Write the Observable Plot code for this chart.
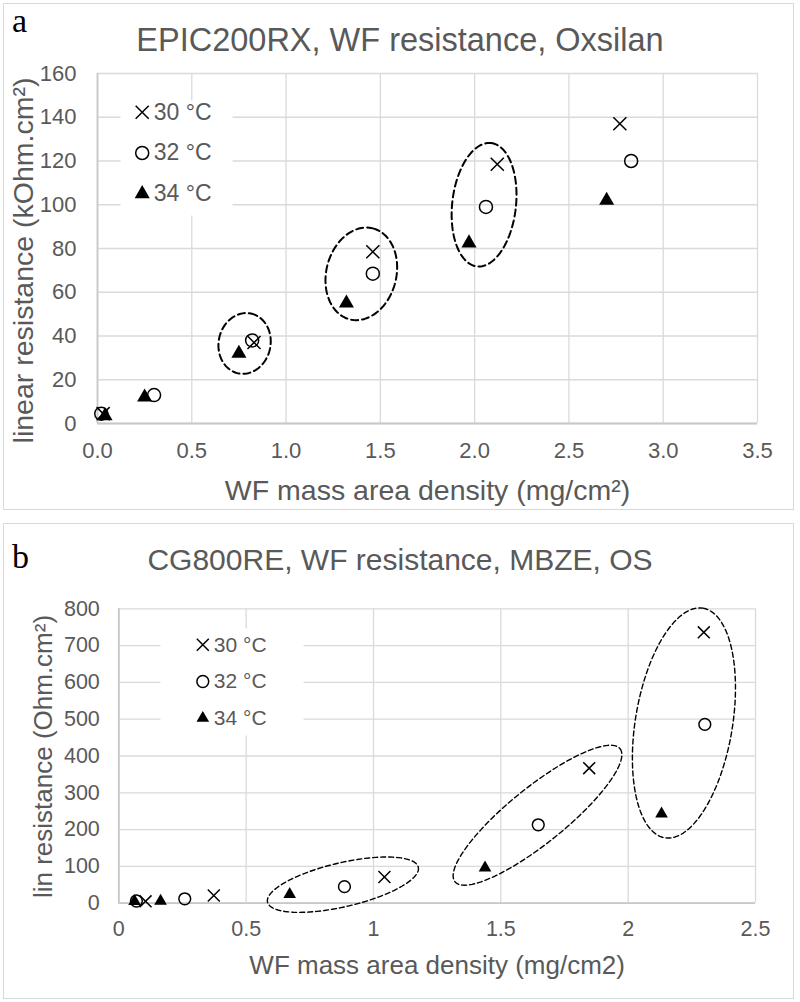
<!DOCTYPE html>
<html>
<head>
<meta charset="utf-8">
<script src="https://cdn.jsdelivr.net/npm/d3@7"></script>
<script src="https://cdn.jsdelivr.net/npm/@observablehq/plot@0.6"></script>
<style>
  body { margin: 0; background: #fff; }
  #page { position: relative; width: 800px; height: 1002px; overflow: hidden; font-family: "Liberation Sans", Arial, sans-serif; }
  .box { position: absolute; left: 3px; width: 791px; border: 1.5px solid #d9d9d9; box-sizing: border-box; }
  .tag { position: absolute; font-family: "Liberation Serif", "Times New Roman", serif; color: #000; line-height: 1; }
  .title { position: absolute; left: 0; width: 800px; text-align: center; color: #595959; line-height: 1; white-space: nowrap; }
  .chart { position: absolute; left: 0; width: 800px; }
</style>
</head>
<body>
<div id="page">
  <div class="box" style="top:3px;height:507px;"></div>
  <div class="box" style="top:523px;height:476px;"></div>
  <div class="tag" style="left:12px;top:3.5px;font-size:34px;">a</div>
  <div class="title" style="top:24px;font-size:32.5px;">EPIC200RX, WF resistance, Oxsilan</div>
  <div class="chart" id="chartA" style="top:62px;"></div>
  <div class="tag" style="left:12px;top:540px;font-size:34px;">b</div>
  <div class="title" style="top:545px;font-size:30px;">CG800RE, WF resistance, MBZE, OS</div>
  <div class="chart" id="chartB" style="top:585px;"></div>
</div>
<script>
// Temperature series shared by both panels
const temps = ["30 °C", "32 °C", "34 °C"];

// Panel a: EPIC200RX with Oxsilan — mass area density (mg/cm²) vs linear resistance (kOhm·cm²)
const epicMass30 = [0.03, 0.83, 1.46, 2.12, 2.77];
const epicRes30  = [4.5, 37, 78.5, 118.5, 137];
const epicMass32 = [0.02, 0.30, 0.82, 1.46, 2.06, 2.83];
const epicRes32  = [4.5, 13, 38, 68.5, 99, 120];
const epicMass34 = [0.04, 0.25, 0.75, 1.32, 1.97, 2.70];
const epicRes34  = [3.5, 12, 32, 55, 82.5, 102];
const epicXTicks = [0, 0.5, 1, 1.5, 2, 2.5, 3, 3.5];
const epicXTickLabels = ["0.0", "0.5", "1.0", "1.5", "2.0", "2.5", "3.0", "3.5"];
const epicYTicks = [0, 20, 40, 60, 80, 100, 120, 140, 160];
const epicYTickLabels = ["0", "20", "40", "60", "80", "100", "120", "140", "160"];

// Panel b: CG800RE with MBZE, OS — mass area density (mg/cm²) vs linear resistance (Ohm·cm²)
const cgMass30 = [0.105, 0.373, 1.043, 1.847, 2.297];
const cgRes30  = [5, 21, 71, 367, 736];
const cgMass32 = [0.069, 0.259, 0.886, 1.647, 2.301];
const cgRes32  = [6, 12, 45, 213, 486];
const cgMass34 = [0.062, 0.164, 0.671, 1.438, 2.131];
const cgRes34  = [5, 6, 24, 96, 243];
const cgXTicks = [0, 0.5, 1, 1.5, 2, 2.5];
const cgXTickLabels = ["0", "0.5", "1", "1.5", "2", "2.5"];
const cgYTicks = [0, 100, 200, 300, 400, 500, 600, 700, 800];
const cgYTickLabels = ["0", "100", "200", "300", "400", "500", "600", "700", "800"];

// Dashed groupings: centre plus two conjugate half-axes, all in data units
const epicGroups = [
  {cx: 0.780, cy: 36.6,  ax: 0.032, ay: 13.7, bx: 0.135, by: -2.3},
  {cx: 1.399, cy: 68.4,  ax: 0.061, ay: 20.8, bx: 0.180, by: -3.9},
  {cx: 2.050, cy: 100.0, ax: 0.037, ay: 28.2, bx: 0.168, by: -1.6}
];
const cgGroups = [
  {cx: 0.880, cy: 50.3,  ax: 0.296, ay: 47.6,  bx: 0.020, by: -58.2},
  {cx: 1.644, cy: 239.1, ax: 0.324, ay: 180.7, bx: 0.069, by: -59.2},
  {cx: 2.219, cy: 489.7, ax: 0.075, ay: 312.0, bx: 0.188, by: -21.7}
];

const FONT = "'Liberation Sans', Arial, sans-serif";
const GREY = "#595959";

function table(masses, resistances) {
  return masses.map((m, i) => ({mass: m, res: resistances[i]}));
}

function outline(groups) {
  const rows = [];
  groups.forEach((g, id) => {
    for (let k = 0; k < 120; ++k) {
      const t = (2 * Math.PI * k) / 120;
      rows.push({id, mass: g.cx + g.ax * Math.cos(t) + g.bx * Math.sin(t), res: g.cy + g.ay * Math.cos(t) + g.by * Math.sin(t)});
    }
  });
  return rows;
}

function lookup(ticks, labels) {
  return d => labels[ticks.indexOf(d)];
}

function panel(c) {
  const symbolStyle = [
    {symbol: "times", fill: "none", stroke: "black", strokeWidth: 1.5, r: c.rTimes},
    {symbol: "circle", fill: "none", stroke: "black", strokeWidth: 1.5, r: c.rCircle},
    {symbol: "triangle", fill: "black", stroke: "none", r: c.rTriangle}
  ];
  const marks = [
    Plot.ruleX(c.xTicks, {stroke: "#dadada", strokeWidth: 1.3}),
    Plot.ruleY(c.yTicks, {stroke: "#dadada", strokeWidth: 1.3}),
    Plot.frame({fill: "white", stroke: "none", ...c.legendBox}),
    Plot.ruleX([0], {stroke: "#c8c8c8", strokeWidth: 1.8}),
    Plot.ruleY([0], {stroke: "#c8c8c8", strokeWidth: 1.8}),
    Plot.line(outline(c.groups), {x: "mass", y: "res", z: "id", curve: "linear-closed", stroke: "black", strokeWidth: c.dashWidth, strokeDasharray: c.dash})
  ];
  c.series.forEach((s, i) => {
    marks.push(Plot.dot(s, {x: "mass", y: "res", ...symbolStyle[i]}));
  });
  temps.forEach((t, i) => {
    const dy = c.legend.dy + i * c.legend.step;
    marks.push(Plot.dot([t], {frameAnchor: "top-left", dx: c.legend.dx, dy, ...symbolStyle[i]}));
    marks.push(Plot.text([t], {frameAnchor: "top-left", dx: c.legend.tx, dy, text: d => d, textAnchor: "start", lineAnchor: "middle", fontSize: c.legend.font, fill: GREY}));
  });
  marks.push(Plot.text([c.xLabel], {frameAnchor: "bottom", dy: c.xLabelDy, text: d => d, textAnchor: "middle", lineAnchor: "middle", fontSize: c.labelFont, fill: GREY}));
  marks.push(Plot.text([c.yLabel], {frameAnchor: "left", dx: c.yLabelDx, dy: c.yLabelDy, rotate: -90, text: d => d, textAnchor: "middle", lineAnchor: "middle", fontSize: c.labelFont, fill: GREY}));

  return Plot.plot({
    width: 800,
    height: c.height,
    marginTop: c.margin[0], marginRight: c.margin[1], marginBottom: c.margin[2], marginLeft: c.margin[3],
    style: {background: "transparent", color: GREY, fontFamily: FONT, fontSize: c.tickFont + "px", overflow: "visible"},
    x: {domain: [c.xTicks[0], c.xTicks[c.xTicks.length - 1]], ticks: c.xTicks, tickFormat: lookup(c.xTicks, c.xTickLabels), tickSize: 0, tickPadding: c.xPad, label: null},
    y: {domain: [c.yTicks[0], c.yTicks[c.yTicks.length - 1]], ticks: c.yTicks, tickFormat: lookup(c.yTicks, c.yTickLabels), tickSize: 0, tickPadding: c.yPad, label: null},
    marks
  });
}

document.getElementById("chartA").append(panel({
  height: 446, margin: [11, 43, 85, 97],
  xTicks: epicXTicks, xTickLabels: epicXTickLabels, yTicks: epicYTicks, yTickLabels: epicYTickLabels,
  series: [table(epicMass30, epicRes30), table(epicMass32, epicRes32), table(epicMass34, epicRes34)],
  groups: epicGroups, dash: "7,4", dashWidth: 2,
  rTimes: 6, rCircle: 6.5, rTriangle: 5.6,
  legend: {dx: 44.7, dy: 38.7, step: 40.8, tx: 56.3, font: 23},
  legendBox: {insetLeft: 23, insetTop: 27, insetRight: 525, insetBottom: 208},
  tickFont: 22, xPad: 19, yPad: 21,
  labelFont: 28.5,
  xLabel: "WF mass area density (mg/cm²)", xLabelDy: 67,
  yLabel: "linear resistance (kOhm.cm²)", yLabelDx: -74, yLabelDy: 12
}));

document.getElementById("chartB").append(panel({
  height: 412, margin: [23.3, 45, 94.3, 118.3],
  xTicks: cgXTicks, xTickLabels: cgXTickLabels, yTicks: cgYTicks, yTickLabels: cgYTickLabels,
  series: [table(cgMass30, cgRes30), table(cgMass32, cgRes32), table(cgMass34, cgRes34)],
  groups: cgGroups, dash: "5,3", dashWidth: 1.4,
  rTimes: 5.5, rCircle: 5.9, rTriangle: 4.7,
  legend: {dx: 84, dy: 36, step: 36.7, tx: 95, font: 21},
  legendBox: {insetLeft: 41.7, insetTop: 19.7, insetRight: 452, insetBottom: 167.7},
  tickFont: 21.5, xPad: 17.5, yPad: 19,
  labelFont: 26,
  xLabel: "WF mass area density (mg/cm2)", xLabelDy: 62.3,
  yLabel: "lin resistance (Ohm.cm²)", yLabelDx: -75.3, yLabelDy: 0.5
}));
</script>
</body>
</html>
